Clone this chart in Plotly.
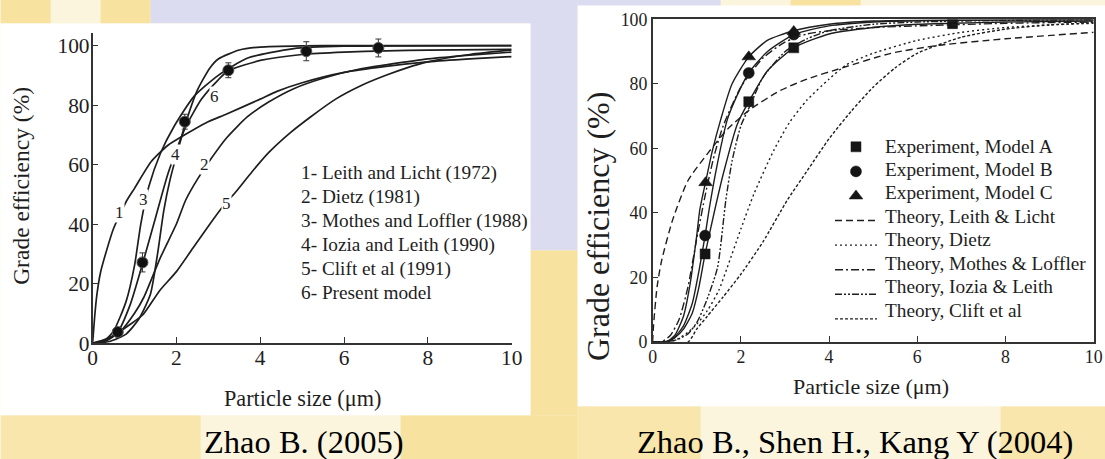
import plotly.graph_objects as go

# The page photo maps figure pixels to picture pixels roughly as
# pic = S * fig + O, so every layout position below is given in picture
# pixels of the reference and converted back into figure coordinates.
SX, OX = 0.9856, 4.4
SY, OY = 0.9486, 10.6
W, H = 1114, 470
FS = 1 / SX  # font scale so text widths match the reference
FONT = "Liberation Serif"
INK = "#1e1e1e"

# ---------------- Left chart: Zhao B. (2005) ----------------
left_x_ticks = [0, 2, 4, 6, 8, 10]
left_y_ticks = [0, 20, 40, 60, 80, 100]

c1_x = [0, 0.05, 0.1, 0.19, 0.3, 0.5, 0.8, 1.0, 1.4, 1.8, 2.2, 2.7, 3.2, 4.0, 4.4, 5.0, 6.0, 7.0, 8.0, 9.0, 10.0]
c1_y = [0, 9, 16, 23.8, 29.5, 38.5, 47.5, 52, 61, 66.5, 70, 74, 77, 82, 84.6, 87.5, 91, 93, 94.5, 95.5, 96.3]
c2_x = [0, 0.3, 0.67, 1.0, 1.22, 1.62, 2.0, 2.22, 2.5, 2.78, 3.2, 3.69, 4.2, 4.8, 5.5, 6.4, 7, 8, 9, 10]
c2_y = [0, 0.5, 4, 10, 15.3, 28.8, 40, 48, 55, 61, 69, 76, 81, 85.5, 89, 92.2, 93.5, 95.5, 96.8, 97.8]
c3_x = [0, 0.27, 0.5, 0.8, 1.0, 1.15, 1.34, 1.62, 1.94, 2.42, 3.0, 3.7, 4.8, 6, 10]
c3_y = [0, 0.7, 4, 14, 26, 40, 52.5, 63.8, 72.7, 82.9, 90, 95.8, 99, 99.8, 100]
c4_x = [0, 0.4, 0.8, 1.1, 1.38, 1.55, 1.7, 1.85, 2.0, 2.2, 2.5, 2.8, 3.0, 3.5, 4, 5, 6, 10]
c4_y = [0, 0.5, 3, 8, 16.4, 30, 44.6, 55, 63, 73, 85, 92.5, 95.5, 98.5, 99.5, 99.9, 100, 100]
c5_x = [0, 0.2, 0.5, 0.9, 1.2, 1.6, 2.0, 2.4, 2.8, 3.1, 3.4, 3.8, 4.2, 4.7, 5.2, 5.8, 6.4, 7, 7.5, 8, 9, 10]
c5_y = [0, 0.7, 2.5, 6.3, 9.5, 17.6, 24, 32, 40, 45.7, 50.5, 57.5, 64, 70.5, 76, 82, 86.5, 90, 92.5, 94.5, 97, 98.5]
c6_x = [0, 0.3, 0.6, 0.9, 1.2, 1.5, 1.8, 2.2, 2.6, 3.0, 3.24, 4, 5, 6, 7, 8, 10]
c6_y = [0, 0.8, 3.7, 13, 27, 42, 57, 72, 82, 88.5, 91.5, 95, 97, 97.8, 98.2, 98.5, 98.7]

exp_x = [0.6, 1.19, 2.2, 3.24, 5.1, 6.82]
exp_y = [3.7, 27.1, 74.4, 91.7, 98.1, 99.2]
exp_err = [1.0, 3.2, 2.5, 2.5, 3.2, 3.0]

left_curves = [(c1_x, c1_y), (c2_x, c2_y), (c3_x, c3_y), (c4_x, c4_y), (c5_x, c5_y), (c6_x, c6_y)]
curve_label_text = ["1", "2", "3", "4", "5", "6"]
curve_label_x = [0.63, 2.66, 1.22, 1.99, 3.2, 2.91]
curve_label_y = [44, 60, 48.2, 63.4, 46.8, 82.9]
left_legend = ["1- Leith and Licht (1972)", "2- Dietz (1981)", "3- Mothes and Loffler (1988)",
               "4- Iozia and Leith (1990)", "5- Clift et al (1991)", "6- Present model"]

# ---------------- Right chart: Zhao B., Shen H., Kang Y (2004) ----------------
right_x_ticks = [0, 2, 4, 6, 8, 10]
right_y_ticks = [0, 20, 40, 60, 80, 100]

a_pts_x = [1.19, 2.18, 3.2, 6.8]
a_pts_y = [27.3, 74.5, 91.2, 98.7]
b_pts_x = [1.19, 2.18, 3.2]
b_pts_y = [33, 83.4, 95.3]
c_pts_x = [1.2, 2.18, 3.2]
c_pts_y = [49.4, 88.4, 96.3]

fitA_x = [0, 0.3, 0.5, 0.7, 0.9, 1.05, 1.19, 1.41, 1.6, 1.92, 2.18, 2.6, 3.2, 4, 5, 6, 6.8, 8, 10]
fitA_y = [0, 0, 1.3, 4, 9, 17, 27.3, 41, 52, 67.5, 74.5, 84, 91.2, 95.5, 97.5, 98.5, 98.8, 99.2, 99.5]
fitB_x = [0, 0.3, 0.5, 0.7, 0.9, 1.05, 1.19, 1.28, 1.45, 1.69, 1.9, 2.18, 2.6, 3.2, 4, 5, 6, 8, 10]
fitB_y = [0, 0, 1.5, 5, 12, 22, 33, 41, 54, 68.8, 76, 83.4, 90, 95.3, 98, 99.2, 99.6, 99.8, 100]
fitC_x = [0, 0.3, 0.5, 0.7, 0.85, 1.0, 1.07, 1.2, 1.35, 1.54, 1.8, 2.18, 2.6, 3.2, 4, 5, 6, 8, 10]
fitC_y = [0, 0, 2, 8, 18, 33, 41, 49.5, 59, 68.8, 80, 88.4, 93.5, 96.5, 98.5, 99.5, 99.8, 100, 100]

leith_x = [0, 0.02, 0.1, 0.2, 0.45, 0.8, 1.25, 1.7, 2.2, 2.9, 3.5, 4.3, 5.4, 6.5, 8, 10]
leith_y = [0, 5, 17, 25, 37.7, 50, 58.5, 66, 72, 78, 81.5, 85, 89.5, 92, 94, 96]
dietz_x = [0, 0.5, 0.8, 1.0, 1.24, 1.5, 1.69, 2.0, 2.3, 2.75, 3.1, 3.5, 4.0, 4.4, 5, 6, 7, 8, 9, 10]
dietz_y = [0, 0.5, 3, 5.5, 9.7, 16, 23, 35, 46, 59.5, 68, 75, 81.5, 86, 89.5, 93.5, 96, 97.5, 98.3, 98.8]
mothes_x = [0, 0.2, 0.4, 0.6, 0.8, 1.0, 1.2, 1.4, 1.6, 2.0, 2.5, 3.0, 3.5, 4, 5, 6, 8, 10]
mothes_y = [0, 0, 2, 7, 17, 32, 46, 58, 67, 79, 88, 93, 95.5, 96.5, 97.5, 98, 98.8, 99.2]
iozia_x = [0, 0.5, 0.8, 1.0, 1.2, 1.47, 1.66, 1.8, 2.0, 2.2, 2.5, 3, 3.5, 4, 5, 6, 8, 10]
iozia_y = [0, 0.5, 2.5, 6, 12, 23, 44, 56, 67, 73, 82, 90, 94, 96.5, 98.5, 99.2, 99.7, 99.9]
clift_x = [0, 0.8, 1.0, 1.24, 1.6, 2.0, 2.5, 3.05, 3.5, 4.0, 4.5, 5, 5.5, 6, 7, 8, 9, 10]
clift_y = [0, 0, 4, 8, 14, 21, 31, 43.9, 53, 63, 71.5, 79, 85, 89.5, 94.5, 97, 98.3, 99]

right_legend = ["Experiment, Model A", "Experiment, Model B", "Experiment, Model C",
                "Theory, Leith & Licht", "Theory, Dietz", "Theory, Mothes & Loffler",
                "Theory, Iozia & Leith", "Theory, Clift et al"]

captions = ["Zhao B. (2005)", "Zhao B., Shen H., Kang Y (2004)"]


def px(x):
    """reference picture x -> paper fraction"""
    return ((x - OX) / SX) / W


def py(y):
    """reference picture y (from top) -> paper fraction"""
    return 1 - ((y - OY) / SY) / H


fig = go.Figure()

# left curves
for cx, cy in left_curves:
    fig.add_trace(go.Scatter(x=cx, y=cy, mode="lines", xaxis="x", yaxis="y",
                             line=dict(color=INK, width=1.7, shape="spline", smoothing=0.6),
                             showlegend=False, hoverinfo="skip"))
fig.add_trace(go.Scatter(x=exp_x, y=exp_y, mode="markers", xaxis="x", yaxis="y",
                         marker=dict(symbol="circle", size=11, color="#111",
                                     line=dict(color="#555", width=1)),
                         error_y=dict(type="data", array=exp_err, visible=True,
                                      color="#333", thickness=1, width=3),
                         showlegend=False))

# right chart fitted solid lines
for fx, fy in [(fitA_x, fitA_y), (fitB_x, fitB_y), (fitC_x, fitC_y)]:
    fig.add_trace(go.Scatter(x=fx, y=fy, mode="lines", xaxis="x2", yaxis="y2",
                             line=dict(color=INK, width=1.4, shape="spline", smoothing=0.6),
                             showlegend=False, hoverinfo="skip"))

# right chart experiments (legend items; legend texts are drawn as annotations)
leg_font = 16.6
for (ex, ey, sym, sz) in [(a_pts_x, a_pts_y, "square", 10), (b_pts_x, b_pts_y, "circle", 11),
                          (c_pts_x, c_pts_y, "triangle-up", 12)]:
    fig.add_trace(go.Scatter(x=ex, y=ey, mode="markers", xaxis="x2", yaxis="y2", name=" ",
                             marker=dict(symbol=sym, size=sz, color="#151515",
                                         line=dict(color="#151515", width=0.5)),
                             showlegend=True))

theory = [(leith_x, leith_y, "7px,4px"),
          (dietz_x, dietz_y, "2px,3px"),
          (mothes_x, mothes_y, "8px,3px,2px,3px"),
          (iozia_x, iozia_y, "7px,2px,2px,2px,2px,2px"),
          (clift_x, clift_y, "3px,2px")]
for tx, ty, dash in theory:
    fig.add_trace(go.Scatter(x=tx, y=ty, mode="lines", xaxis="x2", yaxis="y2", name=" ",
                             line=dict(color=INK, width=1.4, dash=dash, shape="spline", smoothing=0.6),
                             showlegend=True))

# ---------------- background watermark ----------------
YEL = "#f7e2a0"
LAV = "#dcdcf0"
shapes = []


def rect(x0, y0, x1, y1, color, op=1.0):
    shapes.append(dict(type="rect", xref="paper", yref="paper", x0=px(x0), x1=px(x1),
                       y0=py(y1), y1=py(y0), fillcolor=color, line=dict(width=0),
                       layer="below", opacity=op))


rect(0, 0, 1105, 459, "#fbf5de")
rect(0, 0, 50, 24, YEL)
rect(100, 0, 150, 24, YEL)
rect(150, 0, 577, 24, LAV)
rect(528, 0, 577, 250, LAV)
rect(528, 250, 577, 414, YEL)
rect(577, 0, 720, 7, LAV)
rect(790, 0, 860, 7, YEL)
rect(0, 414, 200, 459, YEL, 0.8)
rect(400, 414, 577, 459, YEL)
rect(577, 405, 700, 459, YEL, 0.8)
rect(1000, 405, 1105, 459, YEL, 0.8)
# white panels
rect(0, 24, 530, 414, "white")
rect(577, 6, 1105, 405, "white")

# ---------------- annotations ----------------
ann = []


def pann(text, x, y, size, xanchor="center", yanchor="middle", angle=0, color=INK):
    ann.append(dict(text=text, x=px(x), y=py(y), xref="paper", yref="paper",
                    xanchor=xanchor, yanchor=yanchor, textangle=angle, showarrow=False,
                    font=dict(family=FONT, size=size, color=color)))


for t, x, y in zip(curve_label_text, curve_label_x, curve_label_y):
    ann.append(dict(text=t, x=x, y=y, xref="x", yref="y", showarrow=False,
                    xanchor="center", yanchor="middle",
                    font=dict(family=FONT, size=17, color=INK), bgcolor="white", borderpad=0))

left_leg_y = [173.3, 197.0, 220.7, 244.4, 268.0, 291.6]
for t, y in zip(left_legend, left_leg_y):
    pann(t, 298, y, 19.3, xanchor="left")

right_leg_y0 = 146.0
right_leg_dy = 23.33
for i, t in enumerate(right_legend):
    pann(t, 882, right_leg_y0 + i * right_leg_dy, 19.3, xanchor="left")

# axis titles
pann("Particle size (μm)", 302, 397, 22.2)
pann("Grade efficiency (%)", 21, 186, 23.5, angle=-90)
pann("Particle size (μm)", 870, 385, 22)
pann("Grade efficiency (%)", 598, 226, 32, angle=-90)

# captions
pann(captions[0], 303, 441, 32.5, color="black")
pann(captions[1], 854, 441, 32.5, color="black")

axis_common = dict(showgrid=False, zeroline=False, showline=True, linecolor="#333", linewidth=1.5,
                   ticks="inside", ticklen=6, tickwidth=1.3, tickcolor="#333")

leg_left_fig = 837
leg_top_fig = 125.4

fig.update_layout(
    width=W, height=H, margin=dict(l=0, r=0, t=0, b=0), autosize=False,
    paper_bgcolor="white", plot_bgcolor="rgba(0,0,0,0)",
    font=dict(family=FONT, color=INK),
    shapes=shapes, annotations=ann,
    xaxis=dict(domain=[px(92), px(511)], range=[0, 10], tickvals=left_x_ticks, anchor="y",
               tickfont=dict(family=FONT, size=21.4, color=INK), ticklabelstandoff=-5, **axis_common),
    yaxis=dict(domain=[py(342), py(33)], range=[0, 100 * (342 - 33) / (342 - 46)], tickvals=left_y_ticks,
               anchor="x", tickfont=dict(family=FONT, size=21.4, color=INK), ticklabelstandoff=-3,
               **axis_common),
    xaxis2=dict(domain=[px(652), px(1093)], range=[0, 10], tickvals=right_x_ticks, anchor="y2",
                mirror=True, tickfont=dict(family=FONT, size=17.8, color=INK), ticklabelstandoff=-2,
                **axis_common),
    yaxis2=dict(domain=[py(341), py(20)], range=[0, 100], tickvals=right_y_ticks, anchor="x2",
                mirror=True, tickfont=dict(family=FONT, size=17.8, color=INK), ticklabelstandoff=0,
                **axis_common),
    legend=dict(x=leg_left_fig / W, y=1 - leg_top_fig / H, xanchor="left", yanchor="top",
                bgcolor="rgba(0,0,0,0)", borderwidth=0, itemwidth=42,
                font=dict(family=FONT, size=leg_font, color=INK), tracegroupgap=0),
    showlegend=True,
)

fig.write_html("out.html")
